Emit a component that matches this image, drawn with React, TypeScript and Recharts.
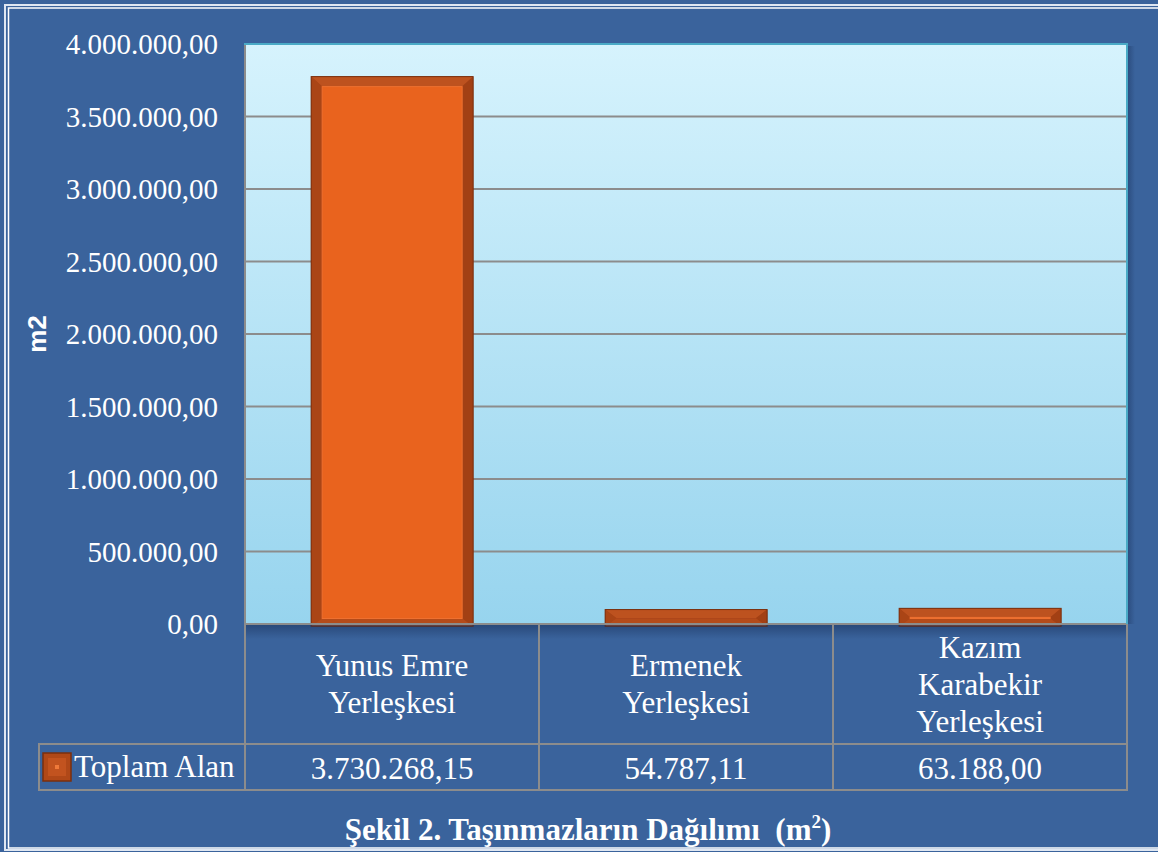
import { BarChart, Bar, XAxis, YAxis, CartesianGrid, Legend } from 'recharts'

const CATEGORIES = ['Yunus Emre Yerleşkesi', 'Ermenek Yerleşkesi', 'Kazım Karabekir Yerleşkesi']
const CATEGORY_LINES = [['Yunus Emre', 'Yerleşkesi'], ['Ermenek', 'Yerleşkesi'], ['Kazım', 'Karabekir', 'Yerleşkesi']]
const TOPLAM_ALAN = [3730268.15, 54787.11, 63188.0]
const Y_TICKS = [0, 500000, 1000000, 1500000, 2000000, 2500000, 3000000, 3500000, 4000000]
const SERIES_NAME = 'Toplam Alan'

const data = CATEGORIES.map((c, i) => ({ name: c, value: TOPLAM_ALAN[i] }))

const BG = '#3a639c'
const GRID = '#8c8c8c'
const SERIF = '"Liberation Serif", "Times New Roman", serif'

// 1234567.8 -> "1.234.567,80"
function fmt(v: number) {
  const [int, dec] = v.toFixed(2).split('.')
  return int.replace(/\B(?=(\d{3})+(?!\d))/g, '.') + ',' + dec
}

function BevelBar(props: any) {
  const { x, y, width, height } = props
  const top = y - 6.5
  const h = height + 9
  const w = width
  const b = Math.min(11, w / 2)
  const bt = Math.min(10, h / 2)
  const bb = Math.min(8, h / 2)
  return (
    <g>
      <rect x={x} y={top} width={w} height={h} fill="#a9431a" />
      <polygon points={`${x},${top} ${x + w},${top} ${x + w - b},${top + bt} ${x + b},${top + bt}`} fill="#bd521f" />
      <polygon points={`${x},${top} ${x + b},${top + bt} ${x + b},${top + h - bb} ${x},${top + h}`} fill="#aa4516" />
      <polygon points={`${x + w},${top} ${x + w - b},${top + bt} ${x + w - b},${top + h - bb} ${x + w},${top + h}`} fill="#a24014" />
      <polygon points={`${x},${top + h} ${x + b},${top + h - bb} ${x + w - b},${top + h - bb} ${x + w},${top + h}`} fill="#b44b1a" />
      {h > bt + bb + 1 && (
        <rect x={x + b} y={top + bt} width={w - 2 * b} height={h - bt - bb} fill="#e9631e" stroke="#ee7030" strokeWidth={1} />
      )}
      <rect x={x} y={top} width={w} height={h} fill="none" stroke="#7a2f0e" strokeWidth={1} />
    </g>
  )
}

function CategoryTick(props: any) {
  const { x, y, payload } = props
  const lines = CATEGORY_LINES[payload.index]
  const mid = y + 60
  return (
    <g>
      <text textAnchor="middle" fill="#fff" fontFamily={SERIF} fontSize={31}>
        {lines.map((l, i) => (
          <tspan key={i} x={x} y={mid + (i - (lines.length - 1) / 2) * 37} dy="0.35em">
            {l}
          </tspan>
        ))}
      </text>
      <text x={x} y={y + 144} dy="0.35em" textAnchor="middle" fill="#fff" fontFamily={SERIF} fontSize={31}>
        {fmt(TOPLAM_ALAN[payload.index])}
      </text>
    </g>
  )
}

function LegendBox() {
  return (
    <div style={{ display: 'flex', alignItems: 'center', height: 46 }}>
      <svg width={30} height={30} style={{ marginLeft: 3 }}>
        <rect x={1} y={1} width={28} height={28} fill="#b04818" stroke="#7a2f0e" strokeWidth={1.5} />
        <rect x={6} y={6} width={18} height={18} fill="#c2531f" />
        <rect x={13} y={13} width={4} height={4} fill="#f07a3a" />
      </svg>
      <span style={{ color: '#fff', fontFamily: SERIF, fontSize: 31, marginLeft: 2, whiteSpace: 'nowrap' }}>
        {SERIES_NAME}
      </span>
    </div>
  )
}

export default function App() {
  return (
    <div style={{ position: 'absolute', left: 0, top: 0, width: 1158, height: 852, background: BG, overflow: 'hidden' }}>
      <BarChart
        width={1158}
        height={852}
        data={data}
        margin={{ top: 44, right: 31, left: 0, bottom: 0 }}
        barCategoryGap="22.5%"
      >
        <defs>
          <linearGradient id="plotBg" x1="0" y1="0" x2="0" y2="1">
            <stop offset="0%" stopColor="#d6f3fd" />
            <stop offset="100%" stopColor="#97d4ee" />
          </linearGradient>
        </defs>
        <CartesianGrid vertical={false} stroke={GRID} strokeWidth={2} fill="url(#plotBg)" fillOpacity={1} />
        <YAxis
          width={245}
          domain={[0, 4000000]}
          ticks={Y_TICKS}
          tickFormatter={fmt}
          tickSize={0}
          tickMargin={27}
          axisLine={{ stroke: GRID, strokeWidth: 2 }}
          tick={{ fill: '#fff', fontFamily: SERIF, fontSize: 29 }}
          interval={0}
          label={({ viewBox }: any) => {
            const cx = 37
            const cy = viewBox.y + viewBox.height / 2
            return (
              <text
                x={cx}
                y={cy}
                transform={`rotate(-90, ${cx}, ${cy})`}
                textAnchor="middle"
                dominantBaseline="central"
                fill="#fff"
                fontFamily='"Liberation Sans", Arial, sans-serif'
                fontWeight="bold"
                fontSize={26}
              >
                m2
              </text>
            )
          }}
        />
        <XAxis
          dataKey="name"
          height={228}
          tickSize={0}
          tickMargin={0}
          interval={0}
          axisLine={{ stroke: GRID, strokeWidth: 2 }}
          tick={<CategoryTick />}
        />
        <Legend
          layout="horizontal"
          verticalAlign="middle"
          align="center"
          content={() => <LegendBox />}
          wrapperStyle={{ position: 'absolute', left: 39, top: 744, width: 206, height: 46 }}
        />
        <Bar dataKey="value" name={SERIES_NAME} shape={<BevelBar />} isAnimationActive={false} />
      </BarChart>

      <svg width={1158} height={852} style={{ position: 'absolute', left: 0, top: 0, pointerEvents: 'none' }}>
        <defs>
          <linearGradient id="shadowDown" x1="0" y1="0" x2="0" y2="1">
            <stop offset="0%" stopColor="#1c3560" stopOpacity={0.55} />
            <stop offset="100%" stopColor="#1c3560" stopOpacity={0} />
          </linearGradient>
          <linearGradient id="shadowRight" x1="0" y1="0" x2="1" y2="0">
            <stop offset="0%" stopColor="#1c3560" stopOpacity={0.45} />
            <stop offset="100%" stopColor="#1c3560" stopOpacity={0} />
          </linearGradient>
        </defs>
        <rect x={246} y={625} width={881} height={14} fill="url(#shadowDown)" />
        <rect x={1128} y={46} width={7} height={578} fill="url(#shadowRight)" />
        {/* plot border */}
        <line x1={244} y1={44} x2={1128} y2={44} stroke="#4aaac6" strokeWidth={2} />
        <line x1={1127} y1={44} x2={1127} y2={624} stroke="#4aaac6" strokeWidth={2} />
        {/* data table */}
        <g stroke={GRID} strokeWidth={2}>
          <line x1={39} y1={744} x2={1128} y2={744} />
          <line x1={39} y1={790} x2={1128} y2={790} />
          <line x1={39} y1={743} x2={39} y2={791} />
          <line x1={245} y1={624} x2={245} y2={791} />
          <line x1={539} y1={624} x2={539} y2={791} />
          <line x1={833} y1={624} x2={833} y2={791} />
          <line x1={1127} y1={624} x2={1127} y2={791} />
        </g>
        {/* frame */}
        <rect x={5} y={5} width={1200} height={845} fill="none" stroke="#dfe7f2" strokeWidth={2} />
        <rect x={8.5} y={8} width={1200} height={840} fill="none" stroke="#ffffff" strokeWidth={1.5} />
        <text x={588} y={829} dy="0.35em" textAnchor="middle" fill="#fff" fontFamily={SERIF} fontWeight="bold" fontSize={31}>
          Şekil 2. Taşınmazların Dağılımı{'\u00a0\u00a0'}(m
          <tspan dy={-12} fontSize={19}>2</tspan>
          <tspan dy={12}>)</tspan>
        </text>
      </svg>
    </div>
  )
}
